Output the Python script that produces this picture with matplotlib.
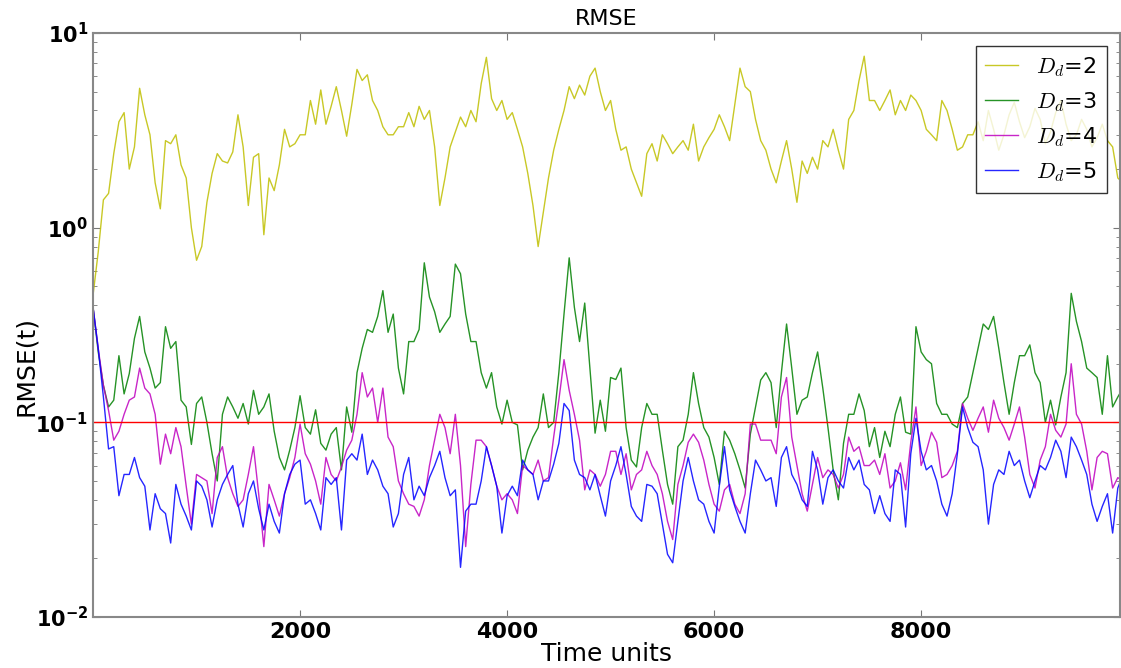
import numpy as np
import matplotlib
matplotlib.use('Agg')
import matplotlib.pyplot as plt
from matplotlib.ticker import FuncFormatter, LogLocator

plt.rcParams['mathtext.fontset'] = 'dejavusans'

# time axis, one sample every 50 units
time = np.arange(0, 10000, 50)

rmse_d2 = [0.45, 0.75, 1.39, 1.5, 2.4, 3.5, 3.9, 2.0, 2.6, 5.2,
           3.8, 3.0, 1.7, 1.25, 2.8, 2.7, 3.0, 2.1, 1.8, 1.0,
           0.68, 0.8, 1.35, 1.9, 2.4, 2.2, 2.15, 2.45, 3.8, 2.6,
           1.3, 2.3, 2.4, 0.92, 1.8, 1.55, 2.1, 3.2, 2.6, 2.7,
           3.0, 3.0, 4.5, 3.4, 5.1, 3.4, 4.2, 5.3, 4.0, 2.95,
           4.3, 6.5, 5.7, 6.1, 4.5, 4.0, 3.3, 3.0, 3.0, 3.3,
           3.3, 3.9, 3.3, 4.2, 3.6, 4.0, 2.6, 1.3, 1.8, 2.6,
           3.1, 3.7, 3.3, 4.0, 3.5, 5.5, 7.5, 4.6, 4.0, 4.5,
           3.6, 3.9, 3.2, 2.6, 1.9, 1.3, 0.8, 1.2, 1.8, 2.5,
           3.2, 4.0, 5.3, 4.6, 5.4, 4.8, 6.0, 6.6, 5.0, 4.0,
           4.5, 3.2, 2.5, 2.6, 2.0, 1.7, 1.45, 2.4, 2.7, 2.2,
           3.0, 2.7, 2.4, 2.6, 2.8, 2.5, 3.4, 2.2, 2.6, 2.9,
           3.2, 3.8, 3.3, 2.8, 4.3, 6.6, 5.3, 5.0, 3.6, 2.8,
           2.5, 2.0, 1.7, 2.2, 2.8, 2.0, 1.35, 2.2, 1.9, 2.3,
           2.0, 2.8, 2.6, 3.2, 2.5, 2.0, 3.6, 4.0, 5.7, 7.6,
           4.5, 4.5, 4.0, 4.5, 5.1, 3.8, 4.5, 4.0, 4.8, 4.5,
           4.0, 3.2, 3.0, 2.8, 4.5, 4.0, 3.2, 2.5, 2.6, 3.0,
           3.0, 3.5, 2.8, 4.0, 3.2, 2.5, 3.0, 3.8, 4.4, 3.5,
           2.9, 3.3, 4.1, 3.6, 2.7, 3.1, 3.9, 4.5, 3.4, 2.8,
           3.0, 3.6, 3.2, 2.6, 2.9, 3.4, 2.8, 2.6, 1.8, 1.7]

rmse_d3 = [0.39, 0.23, 0.155, 0.12, 0.13, 0.22, 0.14, 0.178, 0.27, 0.35,
           0.23, 0.19, 0.15, 0.16, 0.31, 0.24, 0.26, 0.13, 0.12, 0.077,
           0.125, 0.135, 0.10, 0.069, 0.05, 0.11, 0.135, 0.12, 0.105, 0.125,
           0.098, 0.146, 0.11, 0.12, 0.14, 0.09, 0.066, 0.057, 0.072, 0.094,
           0.137, 0.094, 0.087, 0.116, 0.078, 0.072, 0.087, 0.094, 0.057, 0.12,
           0.089, 0.18, 0.24, 0.30, 0.29, 0.35, 0.475, 0.29, 0.36, 0.19,
           0.14, 0.26, 0.26, 0.30, 0.66, 0.44, 0.37, 0.29, 0.32, 0.35,
           0.65, 0.58, 0.36, 0.26, 0.26, 0.18, 0.15, 0.18, 0.12, 0.098,
           0.13, 0.10, 0.097, 0.057, 0.072, 0.084, 0.094, 0.14, 0.094, 0.10,
           0.18, 0.36, 0.70, 0.39, 0.26, 0.41, 0.19, 0.088, 0.13, 0.09,
           0.17, 0.166, 0.19, 0.094, 0.064, 0.059, 0.094, 0.125, 0.11, 0.11,
           0.072, 0.048, 0.038, 0.075, 0.081, 0.11, 0.18, 0.125, 0.094, 0.084,
           0.066, 0.048, 0.09, 0.081, 0.069, 0.057, 0.046, 0.087, 0.12, 0.165,
           0.18, 0.16, 0.094, 0.18, 0.32, 0.19, 0.11, 0.13, 0.135, 0.18,
           0.23, 0.15, 0.094, 0.057, 0.04, 0.078, 0.11, 0.11, 0.14, 0.115,
           0.075, 0.094, 0.066, 0.09, 0.075, 0.11, 0.135, 0.089, 0.087, 0.31,
           0.23, 0.21, 0.20, 0.125, 0.11, 0.11, 0.098, 0.094, 0.125, 0.135,
           0.18, 0.24, 0.32, 0.30, 0.35, 0.24, 0.16, 0.11, 0.16, 0.22,
           0.22, 0.25, 0.18, 0.16, 0.10, 0.13, 0.097, 0.135, 0.18, 0.46,
           0.33, 0.26, 0.19, 0.18, 0.17, 0.11, 0.22, 0.12, 0.135, 0.15]

rmse_d4 = [0.39, 0.24, 0.155, 0.115, 0.081, 0.09, 0.11, 0.13, 0.135, 0.19,
           0.15, 0.14, 0.11, 0.061, 0.087, 0.069, 0.094, 0.075, 0.047, 0.03,
           0.054, 0.052, 0.05, 0.034, 0.066, 0.075, 0.052, 0.043, 0.037, 0.04,
           0.054, 0.075, 0.043, 0.023, 0.048, 0.04, 0.033, 0.043, 0.052, 0.066,
           0.098, 0.069, 0.061, 0.05, 0.038, 0.066, 0.054, 0.05, 0.059, 0.072,
           0.081, 0.11, 0.18, 0.135, 0.15, 0.10, 0.15, 0.084, 0.075, 0.05,
           0.043, 0.038, 0.037, 0.033, 0.04, 0.06, 0.081, 0.11, 0.094, 0.069,
           0.11, 0.06, 0.023, 0.048, 0.081, 0.081, 0.075, 0.06, 0.047, 0.04,
           0.043, 0.04, 0.034, 0.06, 0.057, 0.054, 0.064, 0.05, 0.052, 0.084,
           0.13, 0.21, 0.146, 0.11, 0.081, 0.045, 0.057, 0.054, 0.047, 0.054,
           0.071, 0.071, 0.054, 0.069, 0.045, 0.054, 0.057, 0.071, 0.06, 0.054,
           0.043, 0.031, 0.025, 0.048, 0.06, 0.079, 0.087, 0.079, 0.064, 0.048,
           0.038, 0.035, 0.045, 0.048, 0.038, 0.034, 0.043, 0.098, 0.098, 0.081,
           0.081, 0.081, 0.069, 0.135, 0.17, 0.084, 0.06, 0.043, 0.035, 0.048,
           0.066, 0.052, 0.057, 0.054, 0.046, 0.054, 0.084, 0.071, 0.075, 0.06,
           0.06, 0.064, 0.054, 0.069, 0.046, 0.05, 0.062, 0.045, 0.079, 0.12,
           0.06, 0.071, 0.089, 0.079, 0.052, 0.054, 0.06, 0.071, 0.125, 0.105,
           0.091, 0.105, 0.12, 0.089, 0.13, 0.105, 0.094, 0.081, 0.098, 0.12,
           0.084, 0.054, 0.046, 0.064, 0.075, 0.11, 0.091, 0.084, 0.098, 0.20,
           0.11, 0.098, 0.071, 0.045, 0.066, 0.071, 0.069, 0.046, 0.052, 0.05]

rmse_d5 = [0.39, 0.24, 0.135, 0.073, 0.075, 0.042, 0.054, 0.054, 0.066, 0.052,
           0.047, 0.028, 0.043, 0.036, 0.034, 0.024, 0.048, 0.038, 0.033, 0.028,
           0.05, 0.047, 0.04, 0.029, 0.04, 0.048, 0.054, 0.06, 0.038, 0.029,
           0.043, 0.05, 0.036, 0.028, 0.038, 0.031, 0.027, 0.043, 0.054, 0.061,
           0.064, 0.038, 0.04, 0.034, 0.028, 0.052, 0.048, 0.052, 0.028, 0.064,
           0.069, 0.064, 0.087, 0.054, 0.064, 0.057, 0.047, 0.043, 0.029, 0.034,
           0.054, 0.066, 0.04, 0.047, 0.042, 0.052, 0.06, 0.071, 0.052, 0.042,
           0.045, 0.018, 0.035, 0.038, 0.038, 0.05, 0.075, 0.06, 0.047, 0.027,
           0.042, 0.047, 0.042, 0.064, 0.057, 0.054, 0.04, 0.05, 0.05, 0.061,
           0.078, 0.125, 0.115, 0.064, 0.054, 0.052, 0.045, 0.054, 0.042, 0.033,
           0.05, 0.06, 0.075, 0.054, 0.037, 0.033, 0.031, 0.048, 0.047, 0.043,
           0.03, 0.021, 0.019, 0.031, 0.05, 0.066, 0.05, 0.04, 0.038, 0.031,
           0.027, 0.047, 0.075, 0.045, 0.037, 0.031, 0.027, 0.043, 0.064, 0.057,
           0.05, 0.052, 0.037, 0.066, 0.075, 0.054, 0.048, 0.04, 0.037, 0.071,
           0.057, 0.038, 0.052, 0.057, 0.05, 0.046, 0.066, 0.057, 0.064, 0.048,
           0.045, 0.034, 0.042, 0.034, 0.031, 0.057, 0.054, 0.029, 0.069, 0.105,
           0.071, 0.057, 0.06, 0.05, 0.038, 0.033, 0.043, 0.069, 0.12, 0.094,
           0.079, 0.075, 0.057, 0.03, 0.048, 0.057, 0.054, 0.071, 0.06, 0.064,
           0.05, 0.041, 0.05, 0.06, 0.057, 0.066, 0.081, 0.071, 0.052, 0.084,
           0.075, 0.064, 0.054, 0.038, 0.031, 0.037, 0.043, 0.027, 0.046, 0.054]

threshold = 0.1
series = [rmse_d2, rmse_d3, rmse_d4, rmse_d5]
labels = ['$D_d$=2', '$D_d$=3', '$D_d$=4', '$D_d$=5']
colors = ['y', 'g', 'm', 'b']
xticks = [2000, 4000, 6000, 8000]

fig = plt.figure(figsize=(11.21, 6.68), dpi=100)
ax = fig.add_axes([0.083, 0.0763, 0.916, 0.8743])

for vals, c, lab in zip(series, colors, labels):
    ax.plot(time, vals, color=c, lw=1.0, alpha=0.85, label=lab)
ax.axhline(threshold, color='r', lw=1.0)

ax.set_yscale('log')
ax.set_ylim(1e-2, 1e1)
ax.set_xlim(0, 9920)
ax.set_xticks(xticks)
ax.set_xticklabels([str(v) for v in xticks], fontsize=16, fontweight='bold')
ax.yaxis.set_major_locator(LogLocator(base=10))
ax.yaxis.set_major_formatter(
    FuncFormatter(lambda v, p: r'$\mathbf{10^{%d}}$' % round(np.log10(v))))
ax.tick_params(axis='y', labelsize=15)
ax.tick_params(which='both', direction='in', top=True, right=True,
               color='#777777')
ax.tick_params(which='major', length=5)
ax.tick_params(which='minor', length=3)
for sp in ax.spines.values():
    sp.set_color('#888888')
    sp.set_linewidth(1.5)

ax.set_title('RMSE', fontsize=16)
ax.set_xlabel('Time units', fontsize=18, labelpad=0)
ax.set_ylabel('RMSE(t)', fontsize=18)
ax.yaxis.set_label_coords(-0.054, 0.43)

leg = ax.legend(loc='upper right', fontsize=16, fancybox=False,
                edgecolor='black', handlelength=1.5, borderaxespad=0.6)
leg.get_frame().set_linewidth(1.0)
for t in leg.get_texts():
    t.set_math_fontfamily('cm')

fig.savefig('out.png', dpi=100)
